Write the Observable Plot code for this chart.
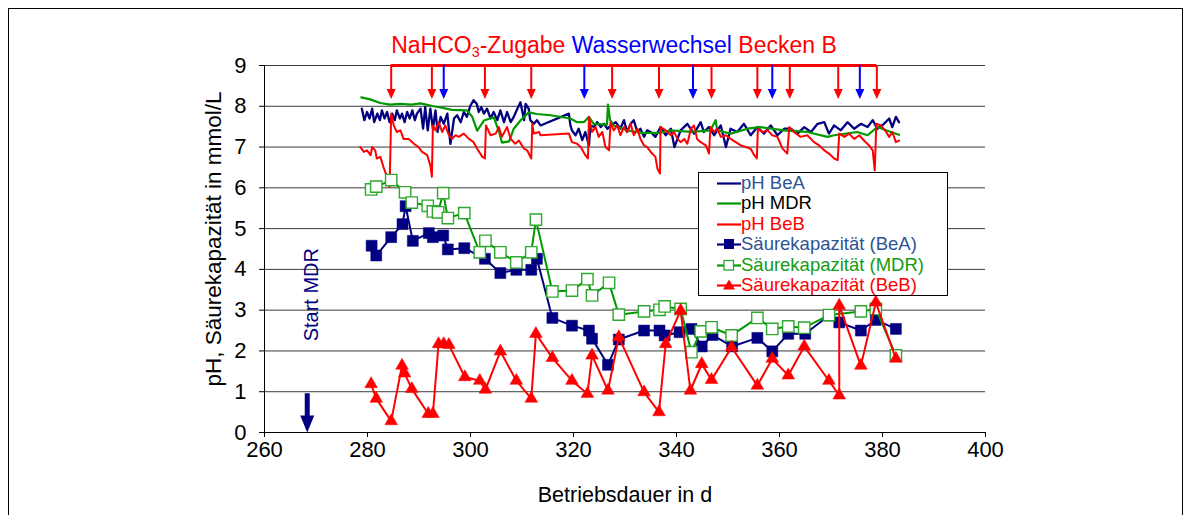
<!DOCTYPE html>
<html><head><meta charset="utf-8">
<script src="https://cdn.jsdelivr.net/npm/d3@7"></script>
<script src="https://cdn.jsdelivr.net/npm/@observablehq/plot@0.6"></script>
<style>
body{margin:0;background:#fff;font-family:"Liberation Sans",Arial,sans-serif;}
#wrap{position:relative;width:1190px;height:515px;overflow:hidden;background:#fff;}
#frame{position:absolute;left:8px;top:8px;width:1173px;height:530px;border:1px solid #000;pointer-events:none;}
#title{position:absolute;top:33px;left:614px;transform:translateX(-50%);white-space:nowrap;font-size:23px;line-height:24px;}
#title sub{font-size:0.62em;vertical-align:-0.3em;line-height:0;}
#legend{position:absolute;left:698px;top:172px;width:250px;height:124px;border:1px solid #000;background:#fff;box-sizing:border-box;}
.row{position:absolute;left:18px;height:20px;display:flex;align-items:center;font-size:18.5px;white-space:nowrap;}
.row svg{display:block;}
#chart{position:absolute;left:0;top:0;}
</style></head>
<body>
<div id="wrap">
  <div id="chart"></div>
  <div id="frame"></div>
  <div id="title"><span style="color:#ff0000">NaHCO<sub>3</sub>-Zugabe</span> <span style="color:#0000ff">Wasserwechsel</span> <span style="color:#ff0000">Becken B</span></div>
  <div id="legend"></div>
</div>
<script>
// ---- tick labels ----
const xTicks = [260, 280, 300, 320, 340, 360, 380, 400];
const yTicks = [0, 1, 2, 3, 4, 5, 6, 7, 8, 9];

// ---- events (days) ----
const nahco3Days = [284.6, 292.5, 302.8, 311.8, 327.5, 336.6, 346.8, 355.7, 362.0, 371.4, 378.9];
const wasserwechselDays = [294.8, 322.1, 343.2, 358.6, 375.6];
const startMDRDay = [268.3];

// ---- pH series [day, pH] ----
const phBeA = [[278.9,7.94],[279.4,7.66],[279.9,7.86],[280.4,7.70],[280.9,7.94],[281.3,7.61],[281.9,7.82],[282.4,7.66],[282.8,7.90],[283.3,7.70],[283.8,7.86],[284.3,7.61],[284.8,7.82],[285.3,7.66],[285.7,7.90],[286.3,7.70],[286.7,7.82],[287.2,7.61],[287.7,7.86],[288.2,7.70],[288.7,7.90],[289.2,7.66],[289.6,7.82],[290.3,7.94],[290.8,7.45],[291.2,7.98],[291.7,7.41],[292.2,7.94],[292.7,7.45],[293.2,7.90],[293.6,7.37],[294.2,7.74],[294.8,7.57],[295.5,7.82],[296.1,7.08],[296.8,7.70],[297.4,7.78],[298.1,7.61],[298.7,7.86],[299.3,7.74],[300.0,8.02],[300.6,8.15],[301.2,8.06],[301.6,7.86],[302.1,7.98],[302.6,7.82],[303.2,7.94],[303.9,7.70],[304.5,7.86],[305.2,7.66],[305.8,7.90],[306.5,7.61],[307.1,7.86],[307.8,7.61],[308.4,7.74],[309.1,7.94],[309.7,8.10],[310.4,7.66],[310.7,8.06],[311.3,7.94],[311.6,7.66],[312.3,7.57],[312.9,7.66],[313.6,7.53],[319.1,7.82],[319.4,7.53],[319.7,7.41],[320.4,7.29],[321.0,7.45],[321.7,7.17],[322.3,7.37],[323.0,7.04],[323.3,7.53],[324.0,7.49],[324.6,7.61],[325.3,7.49],[325.9,7.57],[326.6,7.45],[327.2,7.53],[328.2,7.61],[329.1,7.45],[329.8,7.66],[330.4,7.37],[331.1,7.57],[331.7,7.66],[332.4,7.37],[333.0,7.45],[333.7,7.25],[334.3,7.41],[335.0,7.37],[335.9,7.25],[336.9,7.49],[337.9,7.29],[338.9,7.45],[339.6,7.00],[340.8,7.41],[342.1,7.57],[343.4,7.33],[344.7,7.61],[345.3,7.37],[346.3,7.49],[347.3,7.29],[348.6,7.53],[349.6,7.00],[350.5,7.45],[351.8,7.37],[353.1,7.57],[354.4,7.29],[355.7,7.49],[357.0,7.33],[358.3,7.53],[359.6,7.29],[360.9,7.45],[362.2,7.45],[363.5,7.33],[364.8,7.49],[366.1,7.37],[367.4,7.57],[368.7,7.61],[369.6,7.33],[370.6,7.53],[371.9,7.41],[373.2,7.61],[374.5,7.45],[375.8,7.57],[377.1,7.49],[378.1,7.66],[379.0,7.45],[380.3,7.57],[381.3,7.70],[381.9,7.49],[382.6,7.74],[383.2,7.61]];

const phMDR = [[278.8,8.22],[280.5,8.17],[282.5,8.08],[284.4,8.04],[286.5,8.06],[288.5,8.04],[290.3,8.07],[292.8,8.00],[294.2,7.97],[296.4,7.91],[299.3,7.90],[300.3,7.75],[301.3,7.40],[302.6,7.65],[304.5,7.73],[305.5,7.40],[306.1,7.11],[307.5,7.14],[308.4,7.45],[309.7,7.65],[311.3,7.85],[312.9,7.81],[315.5,7.78],[319.4,7.70],[320.7,7.61],[322.0,7.61],[323.0,7.74],[323.9,7.57],[326.5,7.55],[326.7,8.04],[327.1,7.66],[327.8,7.53],[330.4,7.41],[333.0,7.35],[336.9,7.35],[338.9,7.41],[342.8,7.37],[346.6,7.41],[347.6,7.66],[347.9,7.41],[350.5,7.33],[353.8,7.45],[356.3,7.49],[360.9,7.41],[365.4,7.37],[369.3,7.25],[370.6,7.29],[375.1,7.37],[377.1,7.29],[379.0,7.49],[381.6,7.37],[383.2,7.30]];

const phBeB = [[278.6,7.00],[279.3,6.88],[279.9,6.92],[280.6,6.80],[280.9,7.00],[281.5,6.92],[281.8,6.72],[282.5,6.76],[283.1,6.51],[283.8,6.27],[284.3,6.02],[284.6,7.82],[285.1,7.53],[285.7,7.37],[286.4,7.41],[287.0,7.20],[288.0,7.20],[289.0,7.08],[289.9,7.00],[290.6,6.88],[291.6,6.80],[292.2,6.55],[292.5,6.27],[292.7,7.53],[293.2,7.41],[293.8,7.61],[294.5,7.37],[295.1,7.53],[295.8,7.29],[296.4,7.20],[297.1,7.29],[297.7,7.25],[298.7,7.33],[299.7,7.20],[300.6,7.12],[301.3,6.96],[302.3,6.76],[302.8,6.72],[303.0,7.53],[303.9,7.29],[304.9,7.33],[305.5,7.49],[306.1,7.25],[307.1,7.49],[307.8,7.20],[308.7,7.08],[309.4,7.16],[310.4,6.96],[311.0,6.92],[311.8,6.72],[312.0,7.57],[312.3,7.33],[313.3,7.37],[313.6,7.29],[319.1,7.33],[319.7,7.12],[320.7,7.08],[321.4,7.00],[322.3,6.80],[322.8,6.72],[323.0,7.74],[323.6,7.37],[324.3,7.49],[324.9,7.25],[325.6,7.37],[326.2,7.00],[326.9,6.92],[327.2,7.61],[327.8,7.41],[328.5,7.53],[329.1,7.29],[329.8,7.49],[330.4,7.37],[331.1,7.57],[331.7,7.29],[332.4,7.45],[333.0,7.20],[333.7,7.04],[334.3,7.00],[335.0,6.88],[335.9,6.76],[336.3,6.47],[336.8,6.35],[336.9,7.49],[337.9,7.41],[338.9,7.29],[339.5,7.37],[340.2,7.20],[340.8,7.12],[341.5,7.20],[342.1,7.08],[342.8,7.45],[343.4,7.53],[344.0,7.20],[344.7,7.12],[345.7,7.04],[346.3,6.84],[346.6,7.49],[347.3,7.37],[347.9,7.45],[348.6,7.25],[349.6,7.29],[350.5,7.20],[351.5,7.12],[352.5,7.04],[353.4,7.00],[354.4,6.96],[355.1,6.80],[355.6,6.72],[355.8,7.45],[356.7,7.37],[357.7,7.41],[358.6,7.29],[359.6,7.25],[360.6,6.96],[361.5,6.84],[361.9,7.49],[362.8,7.37],[364.1,7.25],[365.4,7.29],[366.7,7.12],[367.7,7.04],[368.7,6.92],[369.6,6.84],[370.6,6.72],[371.3,6.68],[371.6,7.33],[372.6,7.25],[373.5,7.33],[374.5,7.20],[375.5,7.29],[376.4,7.16],[377.4,7.04],[378.1,6.92],[378.5,6.43],[378.8,7.57],[379.7,7.53],[380.7,7.37],[381.3,7.25],[381.9,7.37],[382.6,7.12],[383.2,7.16]];

// ---- Säurekapazität series [day, mmol/L] ----
const skBeA = [[280.8,4.58],[281.7,4.34],[284.6,4.79],[286.8,5.11],[287.4,5.55],[288.8,4.70],[291.9,4.89],[292.7,4.79],[294.7,4.83],[295.6,4.49],[298.8,4.52],[302.8,4.26],[305.8,3.91],[308.9,3.99],[311.8,3.99],[312.9,4.26],[315.9,2.81],[319.7,2.62],[323.0,2.50],[323.6,2.30],[326.7,1.66],[328.8,2.28],[333.7,2.50],[336.7,2.50],[337.7,2.38],[340.6,2.46],[342.9,2.54],[344.9,2.11],[347.0,2.39],[350.8,2.11],[355.7,2.32],[358.6,1.99],[361.7,2.42],[365.0,2.42],[369.6,2.87],[371.6,2.70],[375.8,2.50],[378.7,2.76],[382.6,2.54]];

const skMDR = [[280.7,5.96],[281.7,6.03],[284.6,6.19],[287.3,5.89],[288.6,5.64],[291.7,5.56],[292.7,5.42],[293.7,5.40],[294.7,5.87],[295.6,5.26],[298.8,5.38],[301.8,4.42],[302.9,4.70],[305.8,4.42],[308.9,4.17],[311.8,4.42],[312.7,5.22],[315.9,3.46],[319.7,3.48],[322.7,3.76],[323.6,3.36],[326.9,3.67],[328.8,2.89],[333.7,2.97],[336.7,3.01],[337.7,3.09],[340.8,3.03],[342.9,1.97],[344.7,2.48],[346.8,2.58],[350.7,2.38],[355.7,2.81],[358.6,2.54],[361.7,2.60],[364.8,2.57],[369.6,2.88],[375.8,2.97],[378.7,3.03],[382.6,1.89]];

const skBeB = [[280.7,1.19],[281.7,0.83],[284.6,0.28],[286.7,1.64],[287.2,1.45],[288.6,1.07],[291.8,0.46],[292.7,0.46],[293.8,2.17],[294.8,2.17],[295.8,2.15],[298.9,1.36],[301.8,1.27],[302.9,1.05],[305.8,1.99],[308.9,1.27],[311.8,0.83],[312.7,2.42],[315.9,1.83],[319.7,1.27],[322.7,0.95],[323.6,1.89],[326.7,1.03],[328.8,2.34],[333.7,0.99],[336.6,0.50],[337.9,2.17],[340.8,2.99],[342.7,1.03],[344.9,1.68],[346.8,1.29],[350.7,2.09],[355.7,1.15],[358.6,1.81],[361.7,1.40],[364.8,2.11],[369.6,1.27],[371.6,0.91],[371.6,3.11],[375.8,1.64],[378.7,3.19],[382.6,1.81]];

// ---- colours ----
const NAVY = "#000080", GREEN = "#009900", OPEN_GREEN = "#2ea82e", RED = "#ff0000", BLUE = "#0000ff";

// down-pointing arrow head with its tip at the anchor point
const arrowHead = (w, h) => ({
  draw(ctx) { ctx.moveTo(0, 0); ctx.lineTo(-w / 2, -h); ctx.lineTo(w / 2, -h); ctx.closePath(); }
});

const X = d => d[0], Y = d => d[1];

const chart = Plot.plot({
  width: 1190,
  height: 515,
  marginLeft: 264,
  marginRight: 205,
  marginTop: 65,
  marginBottom: 83,
  style: {fontFamily: "'Liberation Sans', Arial, sans-serif", fontSize: "22px", color: "#000", background: "transparent"},
  x: {domain: [260, 400]},
  y: {domain: [0, 9]},
  marks: [
    Plot.ruleY(yTicks.filter(v => v > 0), {stroke: "#3a3a3a", strokeWidth: 1}),
    Plot.ruleX([260], {stroke: "#000", strokeWidth: 1}),
    Plot.ruleY([0], {stroke: "#000", strokeWidth: 1}),
    Plot.axisX({ticks: xTicks, tickSize: 5, tickPadding: 4, label: null, fontSize: 22, tickFormat: d => String(d)}),
    Plot.axisY({ticks: yTicks, tickSize: 5, tickPadding: 13, label: null, fontSize: 22, tickFormat: d => String(d)}),
    Plot.text(["pH, Säurekapazität in mmol/L"], {frameAnchor: "left", text: d => d, dx: -51, dy: -10, rotate: -90, textAnchor: "middle", lineAnchor: "middle", fontSize: 22.5, fill: "#000"}),
    Plot.text(["Betriebsdauer in d"], {frameAnchor: "bottom", text: d => d, dy: 63, textAnchor: "middle", lineAnchor: "middle", fontSize: 21.5, fill: "#000"}),

    // pH curves
    Plot.line(phBeA, {x: X, y: Y, stroke: NAVY, strokeWidth: 2.3}),
    Plot.line(phMDR, {x: X, y: Y, stroke: GREEN, strokeWidth: 2.2}),
    Plot.line(phBeB, {x: X, y: Y, stroke: RED, strokeWidth: 2}),

    // Säurekapazität
    Plot.line(skBeA, {x: X, y: Y, stroke: NAVY, strokeWidth: 2}),
    Plot.dot(skBeA, {x: X, y: Y, symbol: "square", r: 6.2, fill: NAVY, stroke: NAVY, strokeWidth: 0.5}),
    Plot.line(skMDR, {x: X, y: Y, stroke: GREEN, strokeWidth: 2}),
    Plot.dot(skMDR, {x: X, y: Y, symbol: "square", r: 6.4, fill: "#fff", stroke: OPEN_GREEN, strokeWidth: 1.4}),
    Plot.line(skBeB, {x: X, y: Y, stroke: RED, strokeWidth: 2}),
    Plot.dot(skBeB, {x: X, y: Y, symbol: "triangle", r: 4.7, fill: RED, stroke: RED, strokeWidth: 0.5}),

    // event arrows at the top
    Plot.ruleY([9], {x1: () => d3.min(nahco3Days), x2: () => d3.max(nahco3Days), stroke: RED, strokeWidth: 3}),
    Plot.ruleX(nahco3Days, {x: d => d, y1: () => 9, y2: () => 8.4, stroke: RED, strokeWidth: 2}),
    Plot.dot(nahco3Days, {x: d => d, y: () => 8.18, symbol: arrowHead(9, 10), fill: RED, stroke: "none"}),
    Plot.ruleX(wasserwechselDays, {x: d => d, y1: () => 9, y2: () => 8.4, stroke: BLUE, strokeWidth: 2}),
    Plot.dot(wasserwechselDays, {x: d => d, y: () => 8.18, symbol: arrowHead(9, 10), fill: BLUE, stroke: "none"}),

    // Start MDR
    Plot.ruleX(startMDRDay, {x: d => d, y1: () => 0.95, y2: () => 0.38, stroke: NAVY, strokeWidth: 5}),
    Plot.dot(startMDRDay, {x: d => d, y: () => 0, symbol: arrowHead(14, 17), fill: NAVY, stroke: "none"}),
    Plot.text(startMDRDay, {x: d => d + 0.8, y: () => 3.38, text: () => "Start MDR", rotate: -90, fontSize: 20, fill: NAVY, textAnchor: "middle", lineAnchor: "middle"})
  ]
});
document.getElementById("chart").appendChild(chart);

// ---- legend ----
const legendItems = [
  {label: "pH BeA", color: NAVY, text: "#2e5392", marker: null},
  {label: "pH MDR", color: GREEN, text: "#000", marker: null},
  {label: "pH BeB", color: RED, text: RED, marker: null},
  {label: "Säurekapazität (BeA)", color: NAVY, text: "#2e5392", marker: "fsquare"},
  {label: "Säurekapazität (MDR)", color: GREEN, text: "#129c12", marker: "osquare"},
  {label: "Säurekapazität (BeB)", color: RED, text: RED, marker: "triangle"}
];
const legendRowCenters = [10.5, 31, 51.5, 72, 92.5, 113];
const lg = document.getElementById("legend");
legendItems.forEach((it, i) => {
  const row = document.createElement("div");
  row.className = "row";
  row.style.top = (legendRowCenters[i] - 10 - 1) + "px";
  let m = "";
  if (it.marker === "fsquare") m = `<rect x="7" y="5" width="10" height="10" fill="${NAVY}"/>`;
  if (it.marker === "osquare") m = `<rect x="7" y="5.5" width="9.5" height="9.5" fill="#fff" stroke="${OPEN_GREEN}" stroke-width="1.3"/>`;
  if (it.marker === "triangle") m = `<path d="M12 4.5 L18 14.5 L6 14.5 Z" fill="${RED}"/>`;
  row.innerHTML = `<svg width="24" height="20"><line x1="0" x2="24" y1="10.5" y2="10.5" stroke="${it.color}" stroke-width="2.2"/>${m}</svg><span style="color:${it.text}">${it.label}</span>`;
  lg.appendChild(row);
});
</script>
</body></html>
